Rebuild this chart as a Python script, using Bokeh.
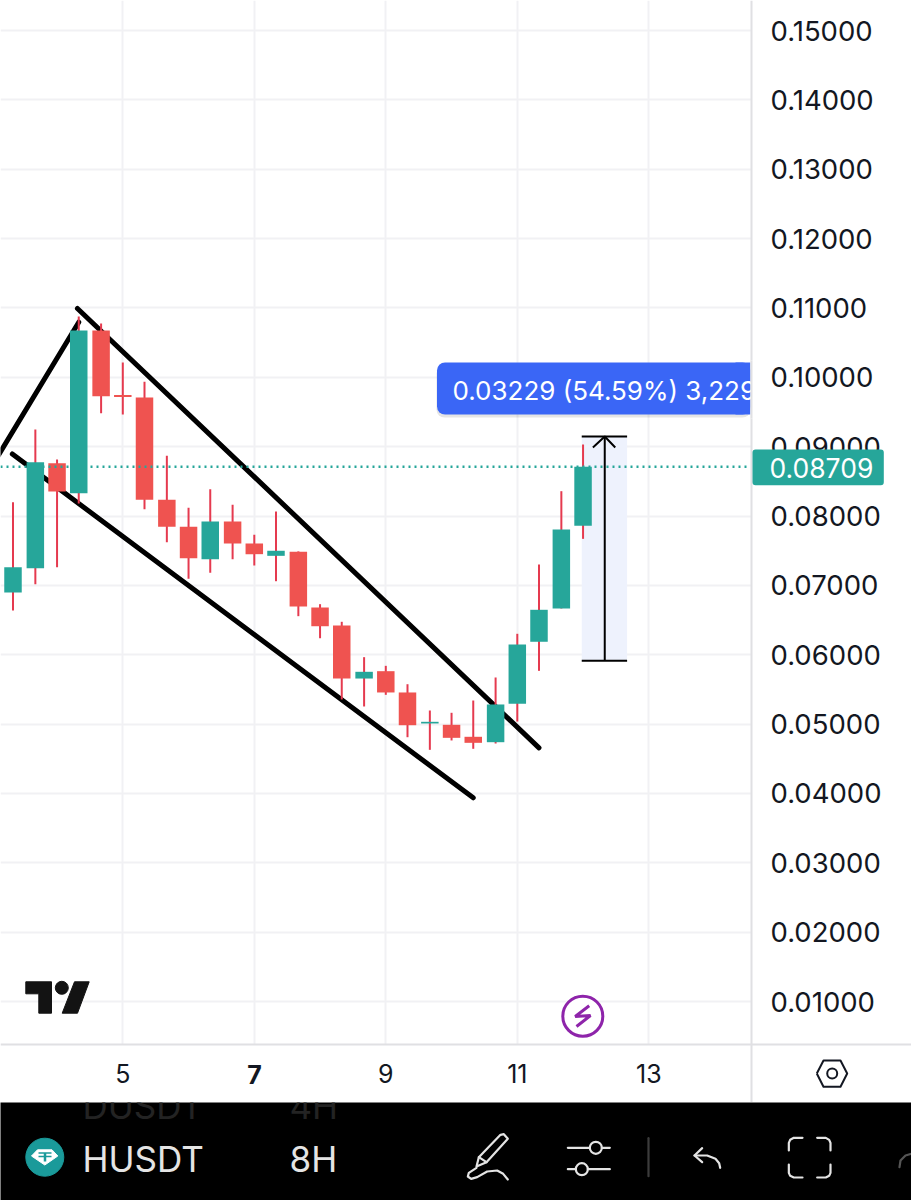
from bokeh.core.properties import value
from bokeh.embed import file_html
from bokeh.layouts import column
from bokeh.models import FixedTicker, Grid, LinearAxis, NumeralTickFormatter, Range1d
from bokeh.plotting import figure
from bokeh.resources import INLINE

# 8H candles, x is the day of the month
days = [3.33, 3.67, 4.0, 4.33, 4.67, 5.0, 5.33, 5.67, 6.0, 6.33, 6.67, 7.0, 7.33, 7.67,
        8.0, 8.33, 8.67, 9.0, 9.33, 9.67, 10.0, 10.33, 10.67, 11.0, 11.33, 11.67, 12.0]
opens = [0.06897, 0.07248, 0.08762, 0.08329, 0.10675, 0.09745, 0.09709, 0.08234, 0.07845,
         0.07377, 0.07921, 0.07604, 0.07426, 0.07484, 0.06681, 0.06422, 0.05657, 0.05763,
         0.05456, 0.05009, 0.04990, 0.04817, 0.04739, 0.05293, 0.06187, 0.06667, 0.07859]
highs = [0.08199, 0.09247, 0.08815, 0.10877, 0.10776, 0.10213, 0.09935, 0.08868, 0.08119,
         0.08387, 0.08162, 0.07729, 0.08065, 0.07490, 0.06729, 0.06475, 0.05965, 0.05840,
         0.05575, 0.05196, 0.05163, 0.05340, 0.05672, 0.06302, 0.07301, 0.08358, 0.09031]
lows = [0.06638, 0.07017, 0.07262, 0.08180, 0.09482, 0.09464, 0.08098, 0.07623, 0.07095,
        0.07181, 0.07377, 0.07287, 0.07060, 0.06556, 0.06238, 0.05355, 0.05254, 0.05422,
        0.04811, 0.04629, 0.04764, 0.04644, 0.04720, 0.05037, 0.05768, 0.06667, 0.07671]
closes = [0.07262, 0.08776, 0.08353, 0.10675, 0.09728, 0.09716, 0.08234, 0.07845, 0.07392,
          0.07921, 0.07604, 0.07450, 0.07499, 0.06696, 0.06411, 0.05657, 0.05754, 0.05456,
          0.04984, 0.05033, 0.04802, 0.04730, 0.05283, 0.06148, 0.06648, 0.07806, 0.08709]

last_price = 0.08709
price_ticks = [0.01, 0.02, 0.03, 0.04, 0.05, 0.06, 0.07, 0.08, 0.09, 0.10, 0.11, 0.12, 0.13, 0.14, 0.15]
day_ticks = [5, 7, 9, 11, 13]

# drawings on the chart (day, price)
rise_days, rise_prices = [3.06, 4.33], [0.08800, 0.10794]
upper_days, upper_prices = [4.31, 11.33], [0.10992, 0.04658]
lower_days, lower_prices = [3.32, 10.33], [0.08894, 0.03937]
measure_days = [11.98, 12.33, 12.67]
measure_low, measure_high = 0.05913, 0.09146
arrow_days, arrow_prices = [12.15, 12.33, 12.49], [0.08988, 0.09146, 0.08988]
measure_label = "0.03229 (54.59%) 3,229"

FONT = "Inter"
TICK_COLOR = "#131722"
GREEN = "#26a69a"
RED = "#ef5350"
WICK = "#e53a4f"
GRID = "#f1f1f4"
BORDER = "#e0e0e3"
BLUE = "#3a66f6"
LIGHT = "#e4e4e4"
PANE_RIGHT = 751
PANE_BOTTOM = 1044


# canvas pixel -> chart coordinates, for the interface bits around the candles
def day_at(px):
    return 5 + (px - 122.3) / 65.75


def price_at(py):
    return 0.15 - (py - 30) / 6936


# the frame fills the figure, the two axes sit inside it at fixed places
p = figure(width=911, height=1102, output_backend="svg", toolbar_location=None,
           x_axis_location=None, y_axis_location=None,
           x_range=Range1d(day_at(0), day_at(911)), y_range=Range1d(price_at(1102), price_at(0)),
           min_border_left=0, min_border_top=0, min_border_right=0, min_border_bottom=0)
p.outline_line_color = None
p.grid.visible = False

time_axis = LinearAxis(fixed_location=price_at(PANE_BOTTOM), ticker=FixedTicker(ticks=day_ticks),
                       major_label_overrides={7: ""}, major_label_text_font_size="25px", major_label_standoff=19)
price_axis = LinearAxis(fixed_location=day_at(PANE_RIGHT), ticker=FixedTicker(ticks=price_ticks),
                        formatter=NumeralTickFormatter(format="0.00000"), major_label_text_font_size="27.5px",
                        major_label_standoff=19)
for ax in (time_axis, price_axis):
    ax.major_tick_in = 0
    ax.major_tick_out = 0
    ax.major_tick_line_color = None
    ax.minor_tick_line_color = None
    ax.axis_line_color = BORDER
    ax.axis_line_width = 2
    ax.major_label_text_font = FONT
    ax.major_label_text_color = TICK_COLOR
p.add_layout(time_axis, "below")
p.add_layout(price_axis, "right")
p.add_layout(Grid(dimension=0, ticker=FixedTicker(ticks=day_ticks), grid_line_color=GRID, grid_line_width=2))
p.add_layout(Grid(dimension=1, ticker=FixedTicker(ticks=price_ticks), grid_line_color=GRID, grid_line_width=2))

# keep the grid inside the pane
p.quad(left=day_at(PANE_RIGHT), right=day_at(911), top=price_at(0), bottom=price_at(1102), color="white")
p.quad(left=day_at(0), right=day_at(PANE_RIGHT), top=price_at(PANE_BOTTOM), bottom=price_at(1102), color="white")

# logo, under everything else
p.patch([day_at(x) for x in [25.3, 51, 51, 38.3, 38.3, 25.3]],
        [price_at(y) for y in [981.3, 981.3, 1012.7, 1012.7, 993.3, 993.3]], color="#131313")
p.patch([day_at(x) for x in [74, 88.7, 77, 61.7]],
        [price_at(y) for y in [981.3, 981.3, 1012.7, 1012.7]], color="#131313")
p.scatter([day_at(61.3)], [price_at(987.3)], size=13, color="#131313")

# lightning badge
p.scatter([day_at(582.3)], [price_at(1015.7)], size=40, fill_color="white", line_color="#8e24aa", line_width=3)
p.line([day_at(x) for x in [588.7, 574.7, 590, 576]], [price_at(y) for y in [1005.3, 1016, 1015, 1026]],
       color="#8e24aa", line_width=3)

# measure tool background
p.quad(left=measure_days[0], right=measure_days[2], bottom=measure_low, top=measure_high,
       fill_color="#eef2fd", line_color=None)

# drawn channel, behind the candles
p.line(rise_days, rise_prices, color="black", line_width=5, line_cap="round")
p.line(upper_days, upper_prices, color="black", line_width=5, line_cap="round")
p.line(lower_days, lower_prices, color="black", line_width=5, line_cap="round")

# candles
body_top = [max(o, c) for o, c in zip(opens, closes)]
body_bottom = [min(o, c) for o, c in zip(opens, closes)]
colors = [GREEN if c >= o else RED for o, c in zip(opens, closes)]
p.segment(days, highs, days, lows, color=WICK, line_width=2)
p.vbar(x=days, top=body_top, bottom=body_bottom, width=0.266, fill_color=colors, line_color=None)

# last price
p.line([day_at(0), day_at(749)], [last_price, last_price], color=GREEN, line_width=2.5, line_dash="2 4")

# measure tool lines
p.line([measure_days[0], measure_days[2]], [measure_high, measure_high], color="black", line_width=2)
p.line([measure_days[0], measure_days[2]], [measure_low, measure_low], color="black", line_width=2)
p.line([measure_days[1], measure_days[1]], [measure_low, measure_high], color="black", line_width=2)
p.line(arrow_days, arrow_prices, color="black", line_width=2)


def overlay_box(left, right, top, bottom, color, alpha=1.0, radius=0):
    r = p.quad(left=day_at(left), right=day_at(right), top=price_at(top), bottom=price_at(bottom),
               fill_color=color, fill_alpha=alpha, line_color=None, border_radius=radius)
    r.level = "overlay"


def overlay_text(x, y, txt, color, size, style="normal", align="left"):
    r = p.text([day_at(x)], [price_at(y)], text=[txt], text_color=color, text_font=value(FONT),
               text_font_size=size, text_font_style=style, text_align=align, text_baseline="middle")
    r.level = "overlay"


# measure label, cut off by the price scale
overlay_box(436, 750, 365, 417, "#000000", alpha=0.10, radius=8)
overlay_box(436.5, 750, 362, 414, BLUE, radius=8)
overlay_box(735, 750, 362, 414, BLUE)
overlay_text(452, 390, measure_label, "white", "26px")
overlay_box(750, 769, 360, 418, "white")
overlay_box(750, 752, 360, 418, BORDER)

# last price chip on the axis
overlay_box(752, 883.3, 449, 484.7, GREEN, radius=3)
overlay_text(769, 467, "0.08709", "white", "26.5px")

# bold 7 on the time axis
overlay_text(254, 1074, "7", TICK_COLOR, "25px", style="bold", align="center")

# settings hexagon
p.line([day_at(x) for x in [816.3, 823, 840, 846.7, 840, 823, 816.3]],
       [price_at(y) for y in [1073, 1060, 1060, 1073, 1086.3, 1086.3, 1073]],
       color=TICK_COLOR, line_width=2, line_join="round")
p.scatter([day_at(831.7)], [price_at(1073)], size=10, fill_color=None, line_color=TICK_COLOR, line_width=2)

# bottom app bar, its ranges are plain page pixels
bar = figure(width=911, height=98, output_backend="svg", toolbar_location=None, x_axis_type=None, y_axis_type=None,
             x_range=Range1d(0, 911), y_range=Range1d(1200, 1102),
             min_border_left=0, min_border_top=0, min_border_right=0, min_border_bottom=0)
bar.grid.visible = False
bar.outline_line_color = None
bar.background_fill_color = "black"
bar.border_fill_color = "black"

for x, y, txt, col in [(82, 1105, "DUSDT", "#232323"), (289, 1105, "4H", "#232323"),
                       (82, 1158, "HUSDT", LIGHT), (289, 1158, "8H", LIGHT)]:
    bar.text([x], [y], text=[txt], text_color=col, text_font=value(FONT), text_font_size="35px",
             text_baseline="middle")

# tether coin
bar.scatter([44.3], [1156.7], size=38, color="#1a9a9a")
bar.patch([31, 37, 51.5, 57.3, 44.3], [1155.5, 1149.3, 1149.3, 1155.5, 1164.5], color="white")
bar.line([38, 51], [1152.5, 1152.5], color="#1a9a9a", line_width=1.7)
bar.line([38, 51], [1156, 1156], color="#1a9a9a", line_width=1.7)
bar.line([44.5, 44.5], [1152.5, 1161], color="#1a9a9a", line_width=2.5)


def icon(xs, ys, color=LIGHT, width=2.2):
    bar.line([450 + x / 3 for x in xs], [1095 + y / 3 for y in ys], color=color, line_width=width,
             line_cap="round", line_join="round")


# pen
icon([85, 150, 160, 172, 108, 78, 85], [185, 118, 116, 130, 200, 213, 185])
icon([85, 108], [185, 200])
icon([78, 55, 52, 62, 80, 110, 140, 158, 172], [217, 232, 243, 250, 245, 228, 225, 235, 252])
# sliders
icon([352, 418], [157, 157])
icon([454, 478], [157, 157])
icon([352, 376], [221, 221])
icon([412, 478], [221, 221])
bar.scatter([450 + 436 / 3, 450 + 394 / 3], [1095 + 157 / 3, 1095 + 221 / 3], size=12, fill_color=None,
            line_color=LIGHT, line_width=2.2)
# divider
icon([594, 594], [128, 242], color="#3c3c3c")
# undo
icon([755, 732, 755], [158, 180, 200])
icon([732, 770, 795, 806, 809], [180, 180, 190, 203, 217])
# fullscreen corners
icon([1015, 1015, 1019, 1030, 1056], [165, 142, 133, 127, 127])
icon([1100, 1126, 1136, 1140, 1140], [127, 127, 133, 142, 165])
icon([1015, 1015, 1019, 1030, 1056], [207, 232, 241, 246, 246])
icon([1100, 1126, 1136, 1140, 1140], [246, 246, 241, 232, 207])
# next icon cut off by the edge
icon([1347, 1350, 1365, 1383], [215, 195, 180, 175], color="#555555")

open("out.html", "w").write(file_html(column(p, bar), INLINE))
